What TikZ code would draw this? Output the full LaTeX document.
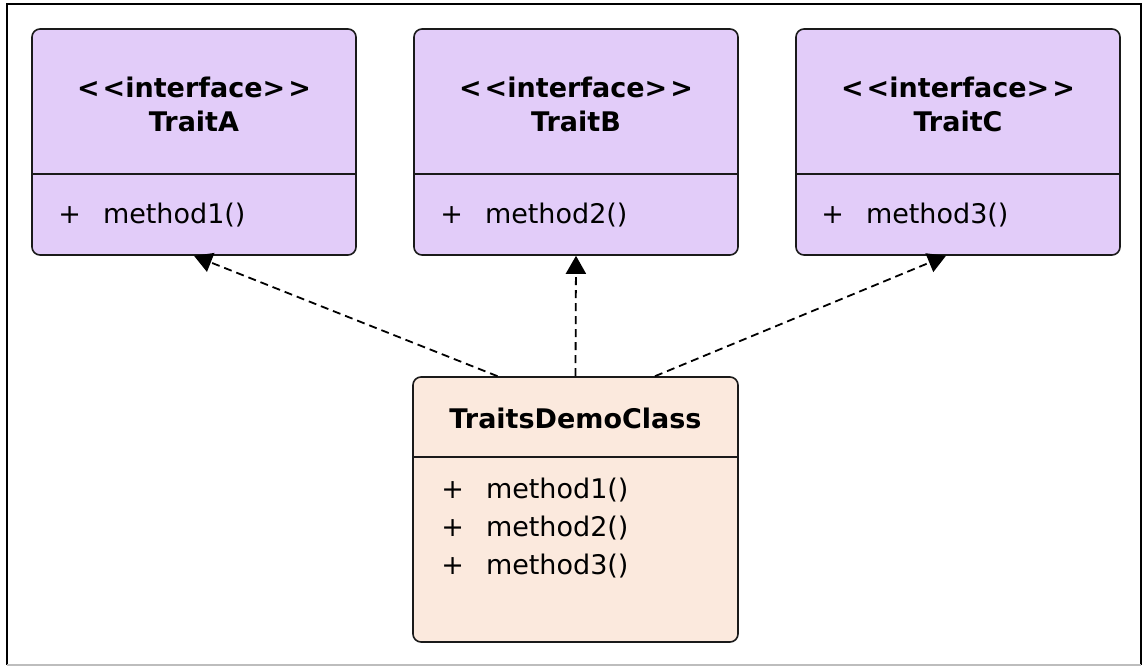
\documentclass[tikz,border=0pt]{standalone}
\usepackage{fontspec}
\setmainfont{DejaVu Sans}
\usetikzlibrary{arrows.meta,positioning,calc}
\definecolor{ink}{HTML}{1A1A1A}
\definecolor{ifacebg}{HTML}{E2CCF9}
\definecolor{classbg}{HTML}{FBE9DD}
\definecolor{framegray}{HTML}{BDBDBD}
\newcommand{\ifacetag}{<\kern1.5pt<interface>\kern1.5pt>}
\tikzset{
  ifacebox/.style={draw=ink,fill=ifacebg,line width=0.8pt,rounded corners=4pt,
                   minimum width=162pt,minimum height=113pt,inner sep=0pt},
  classbox/.style={draw=ink,fill=classbg,line width=0.8pt,rounded corners=4pt,
                   minimum width=162.5pt,minimum height=132.5pt,inner sep=0pt},
  titletext/.style={align=center,inner sep=0pt,
                    font=\fontsize{13.5}{17}\selectfont\bfseries},
  membertext/.style={align=left,anchor=west,inner sep=0pt,
                     font=\fontsize{13.5}{19}\selectfont},
  divider/.style={draw=ink,line width=0.8pt},
  realize/.style={-{Triangle[length=9pt,width=10pt]},line width=0.9pt,
                  dash pattern=on 4pt off 2.5pt,color=black}
}

\begin{document}
\begin{tikzpicture}[x=0.5pt,y=-0.5pt]
  \useasboundingbox (0,0) rectangle (1147,667);
  % outer frame
  \draw[black,line width=1.1pt] (7,665) -- (7,4) -- (1141,4) -- (1141,665);
  \draw[framegray,line width=0.8pt] (7,665) -- (1141,665);

  % interfaces
  \node[ifacebox] (traitA) at (194,142) {};
  \node[ifacebox] (traitB) at (576,142) {};
  \node[ifacebox] (traitC) at (958,142) {};
  \foreach \nm in {traitA,traitB,traitC} {
    \draw[divider] (\nm.west |- 0,174) -- (\nm.east |- 0,174);
  }
  \node[titletext] (titleA) at ($(traitA.north)+(0,76)$) {\ifacetag\\TraitA};
  \node[titletext] (titleB) at ($(traitB.north)+(0,76)$) {\ifacetag\\TraitB};
  \node[titletext] (titleC) at ($(traitC.north)+(0,76)$) {\ifacetag\\TraitC};
  \node[membertext] (memA) at (58,215) {+\hspace{11pt}method1()};
  \node[membertext] (memB) at (440,215) {+\hspace{11pt}method2()};
  \node[membertext] (memC) at (821,215) {+\hspace{11pt}method3()};

  % implementing class
  \node[classbox] (demo) at (575.5,509.5) {};
  \draw[divider] (demo.west |- 0,457) -- (demo.east |- 0,457);
  \node[titletext] (titleD) at (575.5,418) {TraitsDemoClass};
  \node[membertext] (memD) at (441,528)
    {+\hspace{11pt}method1()\\+\hspace{11pt}method2()\\+\hspace{11pt}method3()};

  \draw[realize] ([xshift=-39pt]demo.north) -- (traitA.south);
  \draw[realize] (demo.north) -- (traitB.south);
  \draw[realize] ([xshift=39.75pt]demo.north) -- ([xshift=-6pt]traitC.south);
\end{tikzpicture}
\end{document}
